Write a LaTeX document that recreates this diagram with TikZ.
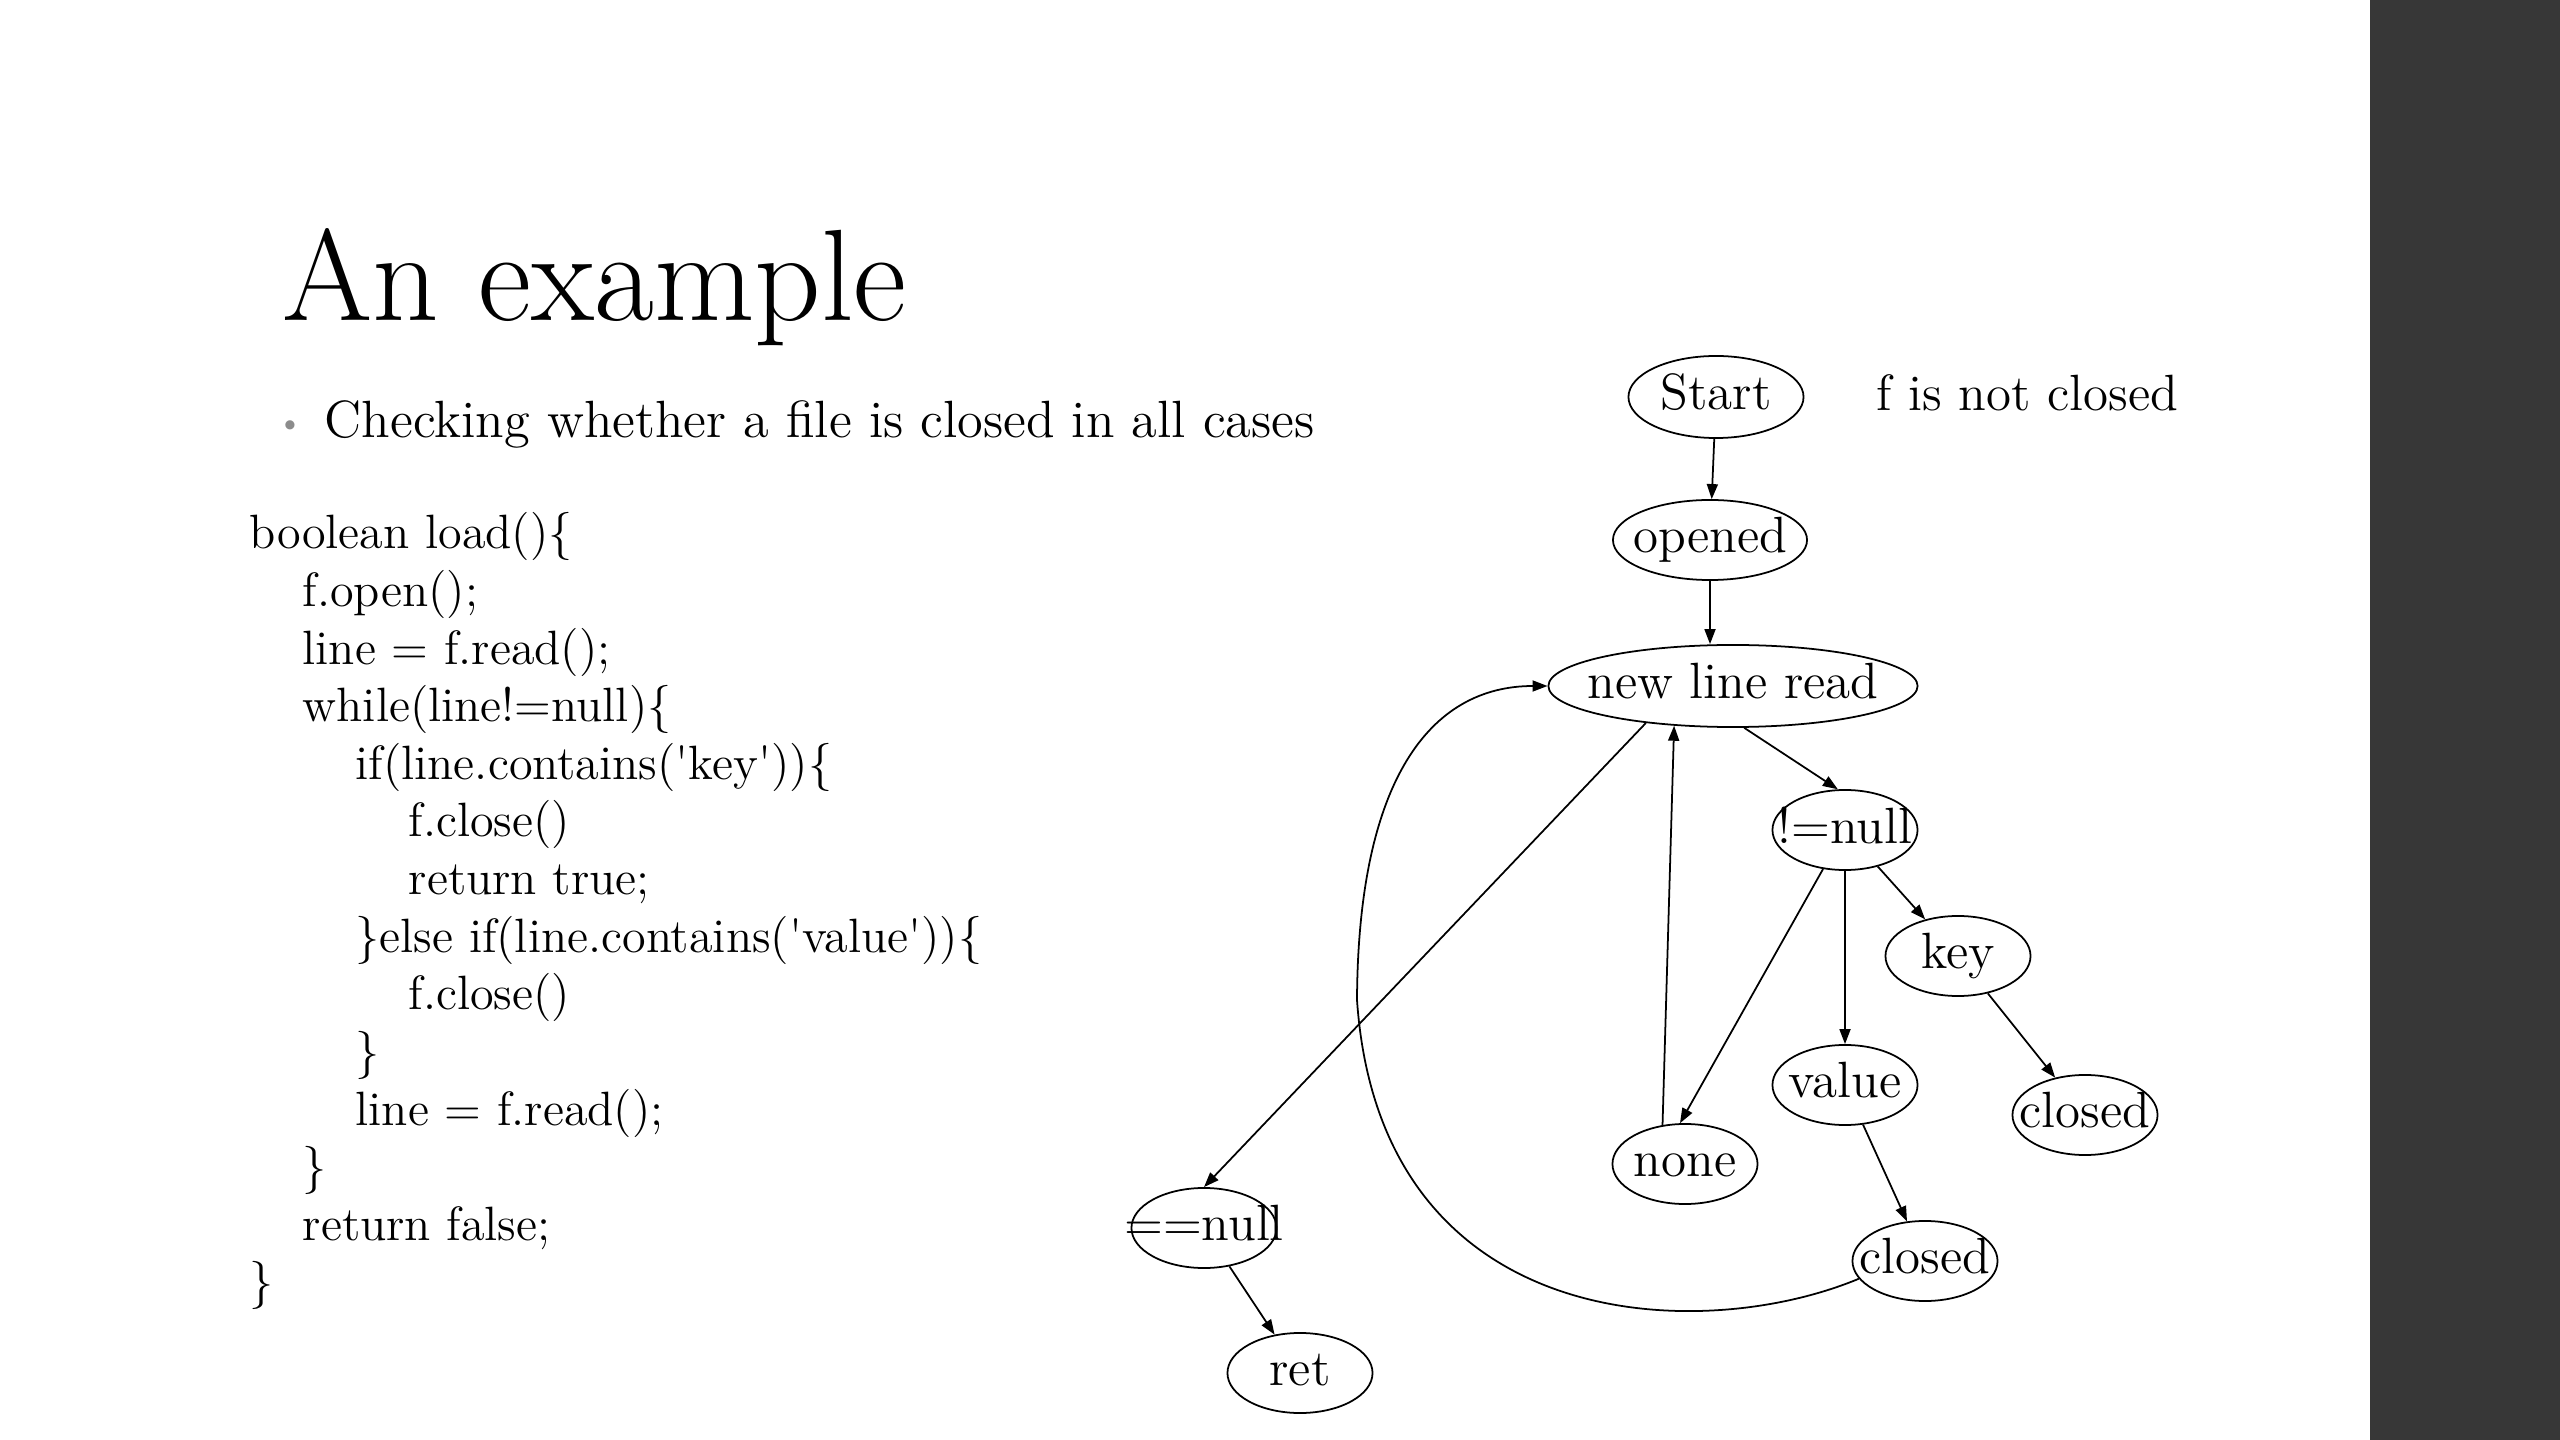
\documentclass[tikz,border=0pt]{standalone}
\usepackage{fontspec}
\usetikzlibrary{shapes.geometric,arrows.meta}

\definecolor{bargray}{HTML}{373737}
\definecolor{bulletgray}{HTML}{8C8C8C}

\tikzset{
  gvnode/.style={ellipse, draw, line width=0.5pt, inner sep=0pt,
    minimum width=1.45cm, minimum height=0.8cm, font=\fontsize{14.5}{17}\selectfont},
  gvedge/.style={-{Triangle[length=0.15cm,width=0.11cm]}, line width=0.5pt},
  codeline/.style={anchor=base west, inner sep=0pt, font=\fontsize{13.7}{16}\selectfont}
}
\newcommand{\gvlabel}[1]{\makebox[0pt]{\vphantom{Apg}#1}}

\begin{document}
\begin{tikzpicture}[x=0.01cm, y=-0.01cm]
\useasboundingbox (0,0) rectangle (2560,1440);
\fill[bargray] (2370,0) rectangle (2560,1440);

% title and bullet
\node[anchor=base west, inner sep=0pt, font=\fontsize{37}{42}\selectfont] (title) at (282,321) {An example};
\node[inner sep=0pt, text=bulletgray, font=\fontsize{9}{10}\selectfont] (dot) at (290,427) {\textbullet};
\node[anchor=base west, inner sep=0pt, font=\fontsize{14.9}{17}\selectfont] (point) at (324,438) {Checking whether a file is closed in all cases};

% code
\foreach \lvl/\txt [count=\i from 0] in {
    0/boolean load()\{,
    1/f.open();,
    1/line = f.read();,
    1/while(line!=null)\{,
    2/if(line.contains(\textquotesingle key\textquotesingle))\{,
    3/f.close(),
    3/return true;,
    2/\}else if(line.contains(\textquotesingle value\textquotesingle))\{,
    3/f.close(),
    2/\},
    2/line = f.read();,
    1/\},
    1/return false;,
    0/\}}
  \node[codeline] (code\i) at (249+53*\lvl, 549+57.6*\i) {\txt};

% graph
\node[gvnode, minimum width=1.75cm, minimum height=0.82cm] (st) at (1716,397) {\gvlabel{Start}};
\node[anchor=base west, inner sep=0pt, font=\fontsize{14.5}{17}\selectfont] (note) at (1876,411) {f is not closed};
\node[gvnode, minimum width=1.94cm] (op) at (1710,540) {\gvlabel{opened}};
\node[gvnode, minimum width=3.69cm, minimum height=0.82cm] (nl) at (1733,686) {\gvlabel{new line read}};
\node[gvnode] (nn) at (1845,830) {\gvlabel{!=null}};
\node[gvnode] (ky) at (1958,956) {\gvlabel{key}};
\node[gvnode] (vl) at (1845,1085) {\gvlabel{value}};
\node[gvnode] (ck) at (2085,1115) {\gvlabel{closed}};
\node[gvnode] (no) at (1685,1164) {\gvlabel{none}};
\node[gvnode] (cv) at (1925,1261) {\gvlabel{closed}};
\node[gvnode] (en) at (1204,1228) {\gvlabel{==null}};
\node[gvnode] (rt) at (1300,1373) {\gvlabel{ret}};

\draw[gvedge] (st) -- (op);
\draw[gvedge] (op.south) -- (op.south |- nl.north);
\draw[gvedge] (nl.-75) -- (nn.100);
\draw[gvedge] (nn) -- (ky);
\draw[gvedge] (nn) -- (vl);
\draw[gvedge] (nn) -- (no.97);
\draw[gvedge] (ky) -- (ck);
\draw[gvedge] (vl) -- (cv);
\draw[gvedge] (no.120) -- (nl.214);
\draw[gvedge] (nl.203) -- (en.north);
\draw[gvedge] (en) -- (rt);
\draw[gvedge] (cv.195) .. controls (1700,1345) and (1380,1335) .. (1357,1000)
  .. controls (1358,780) and (1430,686) .. (nl.west);
\end{tikzpicture}
\end{document}
